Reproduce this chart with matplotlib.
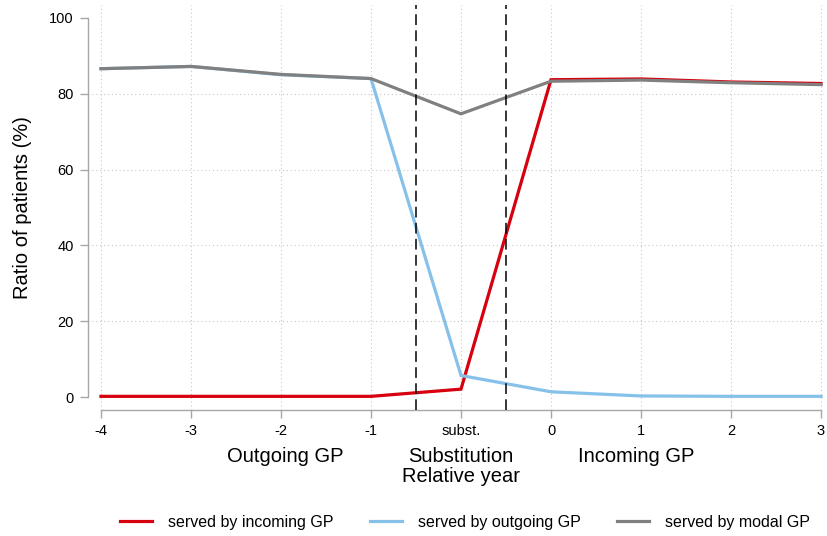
import matplotlib
matplotlib.use("Agg")
import matplotlib.pyplot as plt

plt.rcParams['font.family'] = ['Liberation Sans', 'DejaVu Sans']

# Relative years around the GP substitution
tick_labels = ["-4", "-3", "-2", "-1", "subst.", "0", "1", "2", "3"]
incoming = [0.2, 0.2, 0.2, 0.2, 2.1, 83.7, 83.9, 83.1, 82.7]
outgoing = [86.6, 87.2, 85.0, 84.0, 5.7, 1.4, 0.3, 0.2, 0.2]
modal = [86.6, 87.2, 85.1, 84.0, 74.7, 83.3, 83.6, 82.9, 82.4]
y_ticks = [0, 20, 40, 60, 80, 100]

x = list(range(len(tick_labels)))

fig = plt.figure(figsize=(8.28, 5.36), dpi=100)
ax = fig.add_axes([88 / 828, 1 - 410 / 536, (824 - 88) / 828, (410 - 5) / 536])

red = "#d7000e"
blue = "#86c1ea"
gray = "#808080"

ax.plot(x, incoming, color=red, lw=2.3, solid_joinstyle="miter", label="served by incoming GP", zorder=3)
ax.plot(x, outgoing, color=blue, lw=2.3, solid_joinstyle="miter", label="served by outgoing GP", zorder=3)
ax.plot(x, modal, color=gray, lw=2.3, solid_joinstyle="miter", label="served by modal GP", zorder=3)

# Substitution window
for xv in (3.5, 4.5):
    ax.axvline(xv, color="black", lw=1.1, ls=(0, (7, 3.5)), zorder=4)

ax.set_xlim(-0.144, 8.033)
ax.set_ylim(-3.4, 103.4)

# Dotted grid
for xv in x:
    ax.axvline(xv, color="#c8c8c8", lw=0.8, ls=(0, (1, 2.5)), zorder=1)
for yv in [20, 40, 60, 80]:
    ax.axhline(yv, color="#c8c8c8", lw=0.8, ls=(0, (1, 2.5)), zorder=1)

for s in ("top", "right"):
    ax.spines[s].set_visible(False)
for s in ("left", "bottom"):
    ax.spines[s].set_color("#a8a8a8")
    ax.spines[s].set_linewidth(1.0)
ax.spines["left"].set_bounds(0, 100)
ax.spines["bottom"].set_bounds(0, 8)

ax.set_xticks(x)
ax.set_xticklabels(tick_labels)
ax.set_yticks(y_ticks)
ax.tick_params(axis="both", colors="#a8a8a8", labelcolor="black", labelsize=10.5, length=5.8, width=1.0)
ax.tick_params(axis="x", pad=4)
ax.tick_params(axis="y", pad=4.3)

ax.set_ylabel("Ratio of patients (%)", fontsize=14.5)
ax.yaxis.set_label_coords(-(88 - 23) / 736, (410 - 208) / 405, transform=ax.transAxes)
ax.yaxis.label.set_va("center")

# Group labels under the x axis
trans = ax.get_xaxis_transform()
ax.text(2.05, -46 / 405, "Outgoing GP", transform=trans, ha="center", va="center", fontsize=14.5)
ax.text(4, -46 / 405, "Substitution", transform=trans, ha="center", va="center", fontsize=14.5)
ax.text(5.95, -46 / 405, "Incoming GP", transform=trans, ha="center", va="center", fontsize=14.5)
ax.text(4, -67 / 405, "Relative year", transform=trans, ha="center", va="center", fontsize=14.5)

fig.legend(loc="center", bbox_to_anchor=(465 / 828, 1 - 522 / 536), ncol=3, frameon=False,
           fontsize=11.5, handlelength=2.0, columnspacing=2.3, handletextpad=1.0)

fig.savefig("out.png", dpi=100)
